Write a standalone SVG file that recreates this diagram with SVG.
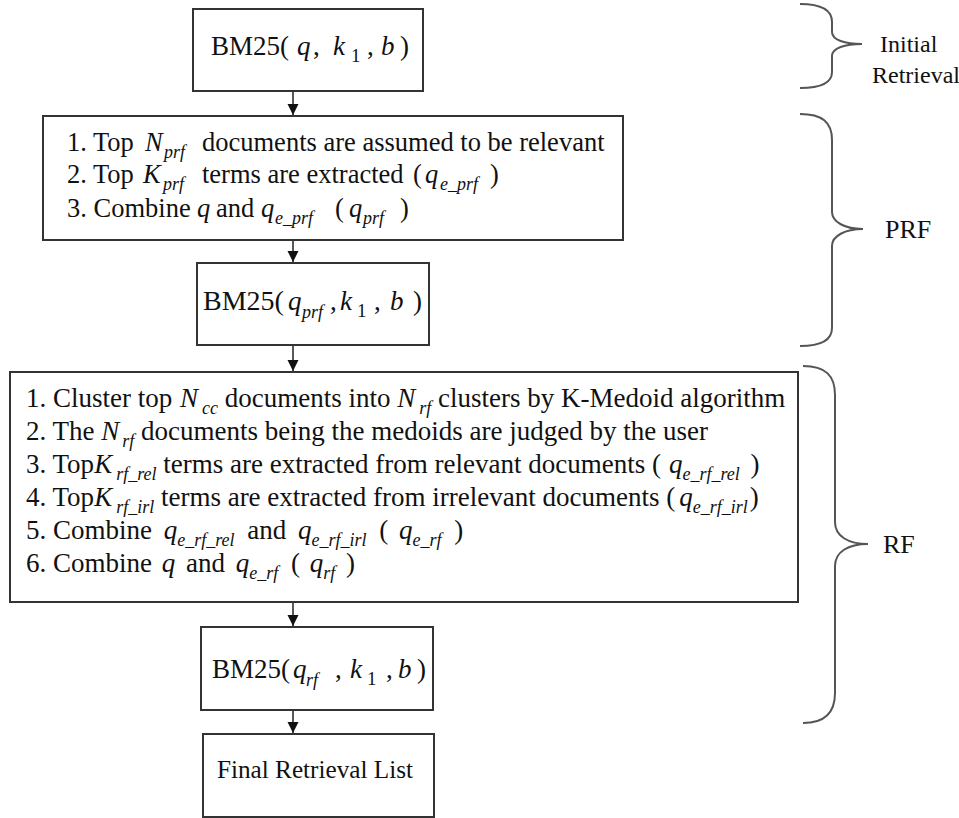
<svg xmlns="http://www.w3.org/2000/svg" width="959" height="818" viewBox="0 0 959 818" font-family="'Liberation Serif', 'DejaVu Serif', serif">
<style>
.box{fill:#fff;stroke:#333;stroke-width:2}
text{font-family:'Liberation Serif','DejaVu Serif',serif}
.t{font-size:26px;fill:#111}
.p{font-size:26.5px}
.r{font-size:27px}
.bm{font-size:27px}
.i{font-style:italic}
.s{font-size:18px;font-style:italic}
.n{font-size:19px}
.brace{fill:none;stroke:#555;stroke-width:2}
.conn line{stroke:#222;stroke-width:1.5;marker-end:url(#ah)}
.lbl{font-size:24px;fill:#111}
</style>
<defs>
<marker id="ah" markerWidth="12" markerHeight="12" refX="11" refY="5.5" orient="auto" markerUnits="userSpaceOnUse"><path d="M0,0 L11,5.5 L0,11 z" fill="#111"/></marker>
</defs>

<g id="connectors" class="conn">
<line x1="293" y1="92" x2="293" y2="115"/>
<line x1="293" y1="241" x2="293" y2="262"/>
<line x1="293" y1="346" x2="293" y2="371"/>
<line x1="293" y1="603" x2="293" y2="626"/>
<line x1="293" y1="711" x2="293" y2="733"/>
</g>

<g id="bm25-initial">
<rect class="box" x="193" y="9" width="230" height="82"/>
<text class="t bm" y="55"><tspan x="211">BM25(</tspan><tspan x="297" class="i">q</tspan><tspan x="313">,</tspan><tspan x="333" class="i">k</tspan><tspan x="351" y="62" class="n">1</tspan><tspan x="367" y="55">,</tspan><tspan x="381" class="i">b</tspan><tspan x="400">)</tspan></text>
</g>

<g id="prf-steps">
<rect class="box" x="43" y="116" width="580" height="124"/>
<text class="t p" y="151"><tspan x="67">1. Top</tspan><tspan x="145" class="i">N</tspan><tspan x="164" y="158" class="s">prf</tspan><tspan x="202" y="151">documents are assumed to be relevant</tspan></text>
<text class="t p" y="183"><tspan x="67">2. Top</tspan><tspan x="143" class="i">K</tspan><tspan x="163" y="190" class="s">prf</tspan><tspan x="202" y="183">terms are extracted</tspan><tspan x="413">(</tspan><tspan x="425" class="i">q</tspan><tspan x="440" y="190" class="s">e_prf</tspan><tspan x="490" y="183">)</tspan></text>
<text class="t p" y="217"><tspan x="67">3. Combine</tspan><tspan x="197" class="i">q</tspan><tspan x="216">and</tspan><tspan x="261" class="i">q</tspan><tspan x="275" y="224" class="s">e_prf</tspan><tspan x="335" y="217">(</tspan><tspan x="349" class="i">q</tspan><tspan x="363" y="224" class="s">prf</tspan><tspan x="400" y="217">)</tspan></text>
</g>

<g id="bm25-prf">
<rect class="box" x="197" y="263" width="232" height="82"/>
<text class="t bm" y="310"><tspan x="203" style="font-size:28px">BM25(</tspan><tspan x="288" class="i">q</tspan><tspan x="302" y="318" class="s">prf</tspan><tspan x="330" y="310">,</tspan><tspan x="340" class="i">k</tspan><tspan x="357" y="317" class="n">1</tspan><tspan x="374" y="310">,</tspan><tspan x="390" class="i">b</tspan><tspan x="413">)</tspan></text>
</g>

<g id="rf-steps">
<rect class="box" x="10" y="372" width="788" height="230"/>
<text class="t r" x="26" y="407">1. Cluster top <tspan class="i" dx="1">N</tspan><tspan class="s" dy="7" dx="4">cc</tspan><tspan dy="-7"> documents into </tspan><tspan class="i">N</tspan><tspan class="s" dy="7" dx="4">rf</tspan><tspan dy="-7"> clusters by K-Medoid algorithm</tspan></text>
<text class="t r" x="26" y="440">2. The <tspan class="i">N</tspan><tspan class="s" dy="7" dx="3">rf</tspan><tspan dy="-7"> documents being the medoids are judged by the user</tspan></text>
<text class="t r" x="26" y="473">3. Top<tspan class="i">K</tspan><tspan class="s" dy="7" dx="4">rf_rel</tspan><tspan dy="-7"> terms are extracted from relevant documents (</tspan><tspan class="i" dx="8">q</tspan><tspan class="s" dy="7">e_rf_rel</tspan><tspan dy="-7" dx="4"> )</tspan></text>
<text class="t r" x="26" y="506">4. Top<tspan class="i">K</tspan><tspan class="s" dy="7" dx="4">rf_irl</tspan><tspan dy="-7"> terms are extracted from irrelevant documents (</tspan><tspan class="i" dx="4">q</tspan><tspan class="s" dy="7">e_rf_irl</tspan><tspan dy="-7" dx="2">)</tspan></text>
<text class="t r" x="26" y="539">5. Combine <tspan class="i" dx="5">q</tspan><tspan class="s" dy="7">e_rf_rel</tspan><tspan dy="-7" dx="6"> and </tspan><tspan class="i" dx="5">q</tspan><tspan class="s" dy="7">e_rf_irl</tspan><tspan dy="-7" dx="6"> ( </tspan><tspan class="i" dx="4">q</tspan><tspan class="s" dy="7">e_rf</tspan><tspan dy="-7" dx="6"> )</tspan></text>
<text class="t r" x="26" y="572">6. Combine <tspan class="i" dx="3">q</tspan><tspan dx="4"> and </tspan><tspan class="i" dx="4">q</tspan><tspan class="s" dy="7">e_rf</tspan><tspan dy="-7" dx="6"> ( </tspan><tspan class="i" dx="3">q</tspan><tspan class="s" dy="7">rf</tspan><tspan dy="-7" dx="4"> )</tspan></text>
</g>

<g id="bm25-rf">
<rect class="box" x="201" y="627" width="232" height="83"/>
<text class="t bm" y="678"><tspan x="212">BM25(</tspan><tspan x="293" class="i">q</tspan><tspan x="306" y="686" class="s">rf</tspan><tspan x="335" y="678">,</tspan><tspan x="350" class="i">k</tspan><tspan x="367" y="685" class="n">1</tspan><tspan x="386" y="678">,</tspan><tspan x="398" class="i">b</tspan><tspan x="417">)</tspan></text>
</g>

<g id="final-list">
<rect class="box" x="203" y="734" width="231" height="83"/>
<text class="t" x="217" y="778" textLength="196" lengthAdjust="spacingAndGlyphs">Final Retrieval List</text>
</g>

<g id="brace-initial">
<path class="brace" d="M800,4 C822,4 832,10 832,22 L832,32 C832,40 845,44 862,44 C845,44 832,48 832,56 L832,72 C832,82 822,88 800,88"/>
<text class="lbl" x="880" y="52">Initial</text>
<text class="lbl" x="872" y="83">Retrieval</text>
</g>

<g id="brace-prf">
<path class="brace" d="M800,114 C822,114 832,122 832,140 L832,212 C832,222 845,229 863,229 C845,229 832,236 832,246 L832,328 C832,340 822,346 800,346"/>
<text class="lbl" x="885" y="238" style="font-size:26px">PRF</text>
</g>

<g id="brace-rf">
<path class="brace" d="M803,366 C826,366 835,376 835,395 L835,522 C835,536 848,544 868,544 C848,544 835,552 835,566 L835,693 C835,712 826,723 803,723"/>
<text class="lbl" x="883" y="553" style="font-size:26px">RF</text>
</g>
</svg>
